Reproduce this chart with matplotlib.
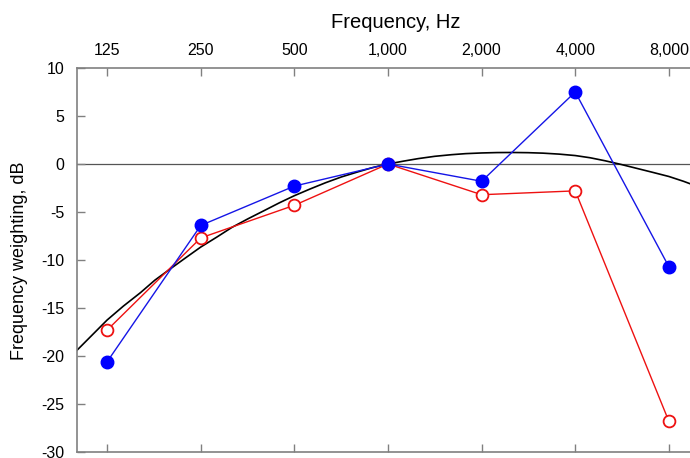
import matplotlib

matplotlib.use("Agg")
import matplotlib.pyplot as plt
from matplotlib.ticker import FixedLocator, NullLocator

# octave-band values (dB)
bands = [125, 250, 500, 1000, 2000, 4000, 8000]
band_labels = ["125", "250", "500", "1,000", "2,000", "4,000", "8,000"]
blue_db = [-20.6, -6.4, -2.3, 0.0, -1.8, 7.5, -10.7]
red_db = [-17.3, -7.7, -4.3, 0.0, -3.2, -2.8, -26.8]

curve_freq = [100, 112, 125, 141, 160, 178, 200, 224, 250, 282, 315, 355, 400,
              447, 500, 562, 630, 708, 800, 891, 1000, 1122, 1250, 1413, 1600,
              1778, 2000, 2239, 2500, 2818, 3150, 3548, 4000, 4467, 5000, 5623,
              6300, 7079, 8000, 8913, 10000]
curve_db = [-19.4, -17.8, -16.25, -14.8, -13.4, -12.1, -10.9, -9.75, -8.65, -7.6,
            -6.6, -5.7, -4.85, -4.05, -3.3, -2.6, -1.95, -1.35, -0.82, -0.38, 0.0,
            0.3, 0.56, 0.8, 0.97, 1.08, 1.15, 1.19, 1.2, 1.18, 1.13, 1.03, 0.88,
            0.65, 0.33, -0.05, -0.45, -0.86, -1.3, -1.8, -2.4]

plt.rcParams["font.family"] = ["Liberation Sans", "DejaVu Sans"]
plt.rcParams["axes.unicode_minus"] = False

fig = plt.figure(figsize=(6.9, 4.58), dpi=100)
ax = fig.add_axes([77 / 690, 1 - 452 / 458, 622 / 690, 384 / 458])

ax.axhline(0, color="#555555", linewidth=0.9, zorder=1)
ax.plot(curve_freq, curve_db, color="black", linewidth=1.2, zorder=2)
ax.plot(bands, red_db, color="#ee1111", linewidth=1.0, marker="o", markersize=8.5,
        markerfacecolor="white", markeredgecolor="#ee1111", markeredgewidth=1.3, zorder=3)
ax.plot(bands, blue_db, color="#1515e6", linewidth=1.0, marker="o", markersize=9,
        markerfacecolor="#0000ff", markeredgecolor="#0000ff", zorder=4)

ax.set_xscale("log", base=2)
ax.set_xlim(100, 10000)
ax.set_ylim(-30, 10)
ax.xaxis.set_major_locator(FixedLocator(bands))
ax.xaxis.set_minor_locator(NullLocator())
ax.set_xticklabels(band_labels)
ax.set_yticks(range(-30, 11, 5))

ax.tick_params(axis="x", which="both", direction="in", top=True, bottom=True,
               labeltop=True, labelbottom=False, length=6, width=1.0,
               color="#808080", labelsize=11.5, pad=7)
ax.tick_params(axis="y", direction="in", left=True, right=True, length=6, width=1.0,
               color="#808080", labelsize=11.5, pad=9)
for side in ax.spines.values():
    side.set_color("#808080")
    side.set_linewidth(1.2)

fig.text(396 / 690, 1 - 22 / 458, "Frequency, Hz", ha="center", va="center", fontsize=14.5)
fig.text(20 / 690, 1 - 261 / 458, "Frequency weighting, dB", ha="center", va="center",
         rotation=90, fontsize=13)

fig.savefig("out.png", dpi=100)
